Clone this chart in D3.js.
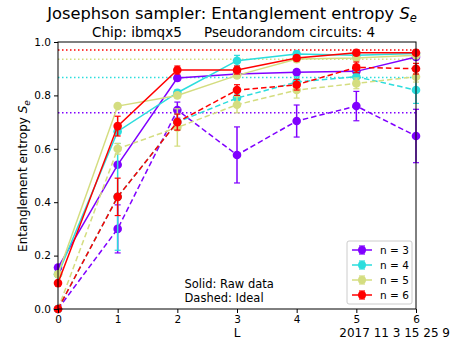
<!DOCTYPE html>
<html>
<head>
<meta charset="utf-8">
<script src="https://cdnjs.cloudflare.com/ajax/libs/d3/7.8.5/d3.min.js"></script>
<style>
  body { margin: 0; background: #fff; }
  svg { font-family: "DejaVu Sans", sans-serif; }
</style>
</head>
<body>
<div id="chart"></div>
<script>
// x values (circuit depth L)
var depths = [0, 1, 2, 3, 4, 5, 6];
var seriesNames = ["n = 3", "n = 4", "n = 5", "n = 6"];
var colors = ["#8000ff", "#2bdddd", "#d4dd80", "#ff0000"];

// solid: raw data
var raw3 = [0.155, 0.54, 0.865, 0.88, 0.887, 0.89, 0.944];
var raw4 = [0.13, 0.665, 0.81, 0.93, 0.955, 0.95, 0.957];
var raw5 = [0.13, 0.76, 0.80, 0.875, 0.936, 0.94, 0.95];
var raw6 = [0.097, 0.685, 0.895, 0.895, 0.94, 0.96, 0.96];
var rawErr3 = [0, 0, 0.01, 0.01, 0.01, 0.01, 0.01];
var rawErr4 = [0, 0, 0.01, 0.02, 0.01, 0.01, 0.01];
var rawErr5 = [0, 0, 0.01, 0.01, 0.01, 0.01, 0.01];
var rawErr6 = [0, 0.037, 0.015, 0.015, 0.01, 0.01, 0.01];

// dashed: ideal
var ideal3 = [0, 0.30, 0.745, 0.577, 0.704, 0.76, 0.648];
var ideal4 = [0, 0.42, 0.70, 0.79, 0.85, 0.87, 0.82];
var ideal5 = [0, 0.60, 0.68, 0.765, 0.82, 0.845, 0.87];
var ideal6 = [0, 0.42, 0.70, 0.82, 0.84, 0.905, 0.90];
var idealErr3 = [0, 0.09, 0.03, 0.105, 0.06, 0.055, 0.1];
var idealErr4 = [0, 0.2, 0.03, 0.02, 0.02, 0.02, 0.05];
var idealErr5 = [0, 0.02, 0.07, 0.03, 0.03, 0.02, 0.02];
var idealErr6 = [0, 0.07, 0.03, 0.02, 0.02, 0.02, 0.02];

// dotted horizontal lines (maximum entropy)
var maxEntropy = [0.735, 0.867, 0.935, 0.97];

var xTicks = [0, 1, 2, 3, 4, 5, 6];
var yTicks = [0.0, 0.2, 0.4, 0.6, 0.8, 1.0];

var raws = [raw3, raw4, raw5, raw6];
var rawErrs = [rawErr3, rawErr4, rawErr5, rawErr6];
var ideals = [ideal3, ideal4, ideal5, ideal6];
var idealErrs = [idealErr3, idealErr4, idealErr5, idealErr6];

const margin = {top: 42, right: 47, bottom: 38, left: 58},
  width = 463 - margin.left - margin.right,
  height = 347 - margin.top - margin.bottom;

const svgRoot = d3.select("#chart").append("svg")
  .attr("width", 463).attr("height", 347);
const svg = svgRoot.append("g")
  .attr("transform", `translate(${margin.left},${margin.top})`);

const x = d3.scaleLinear().domain([0, 6]).range([0, width]);
const y = d3.scaleLinear().domain([0, 1]).range([height, 0]);

svg.append("defs").append("clipPath").attr("id", "clip")
  .append("rect").attr("x", -6).attr("y", -1).attr("width", width + 12).attr("height", height + 6);

const plot = svg.append("g").attr("clip-path", "url(#clip)");

// dotted max lines
maxEntropy.forEach(function(v, i) {
  plot.append("line")
    .attr("x1", 0).attr("x2", width)
    .attr("y1", y(v)).attr("y2", y(v))
    .attr("stroke", colors[i]).attr("stroke-width", 1.5)
    .attr("stroke-dasharray", "1.5,2.5");
});

const line = d3.line().x((d, i) => x(depths[i])).y(d => y(d));

function drawSeries(vals, errs, color, dash) {
  var g = plot.append("g");
  g.append("path").datum(vals)
    .attr("d", line).attr("fill", "none")
    .attr("stroke", color).attr("stroke-width", 1.5)
    .attr("stroke-dasharray", dash);
  vals.forEach(function(v, i) {
    var e = errs[i];
    if (e > 0) {
      var cx = x(depths[i]);
      g.append("line").attr("x1", cx).attr("x2", cx)
        .attr("y1", y(v - e)).attr("y2", y(v + e))
        .attr("stroke", color).attr("stroke-width", 1.5);
      [v - e, v + e].forEach(function(c) {
        g.append("line").attr("x1", cx - 3).attr("x2", cx + 3)
          .attr("y1", y(c)).attr("y2", y(c))
          .attr("stroke", color).attr("stroke-width", 1.2);
      });
    }
    g.append("circle").attr("cx", x(depths[i])).attr("cy", y(v))
      .attr("r", 4.3).attr("fill", color);
  });
}

for (var i = 0; i < 4; i++) {
  drawSeries(ideals[i], idealErrs[i], colors[i], "5.5,3");
  drawSeries(raws[i], rawErrs[i], colors[i], null);
}

// axes
const xAxis = svg.append("g").attr("transform", `translate(0,${height})`)
  .call(d3.axisBottom(x).tickValues(xTicks).tickFormat(d3.format("d")).tickSizeOuter(0).tickSize(4));
const yAxis = svg.append("g")
  .call(d3.axisLeft(y).tickValues(yTicks).tickFormat(d3.format(".1f")).tickSizeOuter(0).tickSize(4));
[xAxis, yAxis].forEach(function(a) {
  a.selectAll("text").attr("font-size", 10.5).attr("fill", "#000")
    .attr("font-family", "DejaVu Sans");
  a.selectAll("line").attr("stroke", "#000");
  a.select(".domain").remove();
});

// frame
svg.append("rect").attr("width", width).attr("height", height)
  .attr("fill", "none").attr("stroke", "#000").attr("stroke-width", 1);

// titles
svgRoot.append("text").attr("x", 232).attr("y", 19).attr("text-anchor", "middle")
  .attr("font-size", 16.3)
  .html('Josephson sampler: Entanglement entropy <tspan font-style="italic">S</tspan><tspan font-style="italic" font-size="11.5" dy="3">e</tspan>');
svgRoot.append("text").attr("x", 92).attr("y", 37)
  .attr("font-size", 13.5).text("Chip: ibmqx5");
svgRoot.append("text").attr("x", 204).attr("y", 37)
  .attr("font-size", 13.5).text("Pseudorandom circuits: 4");

svgRoot.append("text").attr("transform", "translate(27,176) rotate(-90)")
  .attr("text-anchor", "middle").attr("font-size", 12)
  .html('Entanglement entropy <tspan font-style="italic">S</tspan><tspan font-style="italic" font-size="9" dy="3">e</tspan>');

svgRoot.append("text").attr("x", 237).attr("y", 337).attr("text-anchor", "middle")
  .attr("font-size", 12).text("L");
svgRoot.append("text").attr("x", 450).attr("y", 337).attr("text-anchor", "end")
  .attr("font-size", 12).text("2017 11 3 15 25 9");

svg.append("text").attr("x", x(2.12)).attr("y", y(0.08)).attr("font-size", 11.5).text("Solid: Raw data");
svg.append("text").attr("x", x(2.12)).attr("y", y(0.027)).attr("font-size", 11.5).text("Dashed: Ideal");

// legend
const leg = svgRoot.append("g").attr("transform", "translate(347,241)");
leg.append("rect").attr("width", 65).attr("height", 63).attr("rx", 2)
  .attr("fill", "#fff").attr("fill-opacity", 0.8).attr("stroke", "#ccc");
seriesNames.forEach(function(name, i) {
  var cy = 9 + i * 15;
  leg.append("line").attr("x1", 5).attr("x2", 25).attr("y1", cy).attr("y2", cy)
    .attr("stroke", colors[i]).attr("stroke-width", 1.5);
  leg.append("line").attr("x1", 15).attr("x2", 15).attr("y1", cy - 4).attr("y2", cy + 4)
    .attr("stroke", colors[i]).attr("stroke-width", 1.5);
  [cy - 4, cy + 4].forEach(function(c) {
    leg.append("line").attr("x1", 12).attr("x2", 18).attr("y1", c).attr("y2", c)
      .attr("stroke", colors[i]).attr("stroke-width", 1.2);
  });
  leg.append("circle").attr("cx", 15).attr("cy", cy).attr("r", 4).attr("fill", colors[i]);
  leg.append("text").attr("x", 33).attr("y", cy + 4).attr("font-size", 10.5).text(name);
});
</script>
</body>
</html>
